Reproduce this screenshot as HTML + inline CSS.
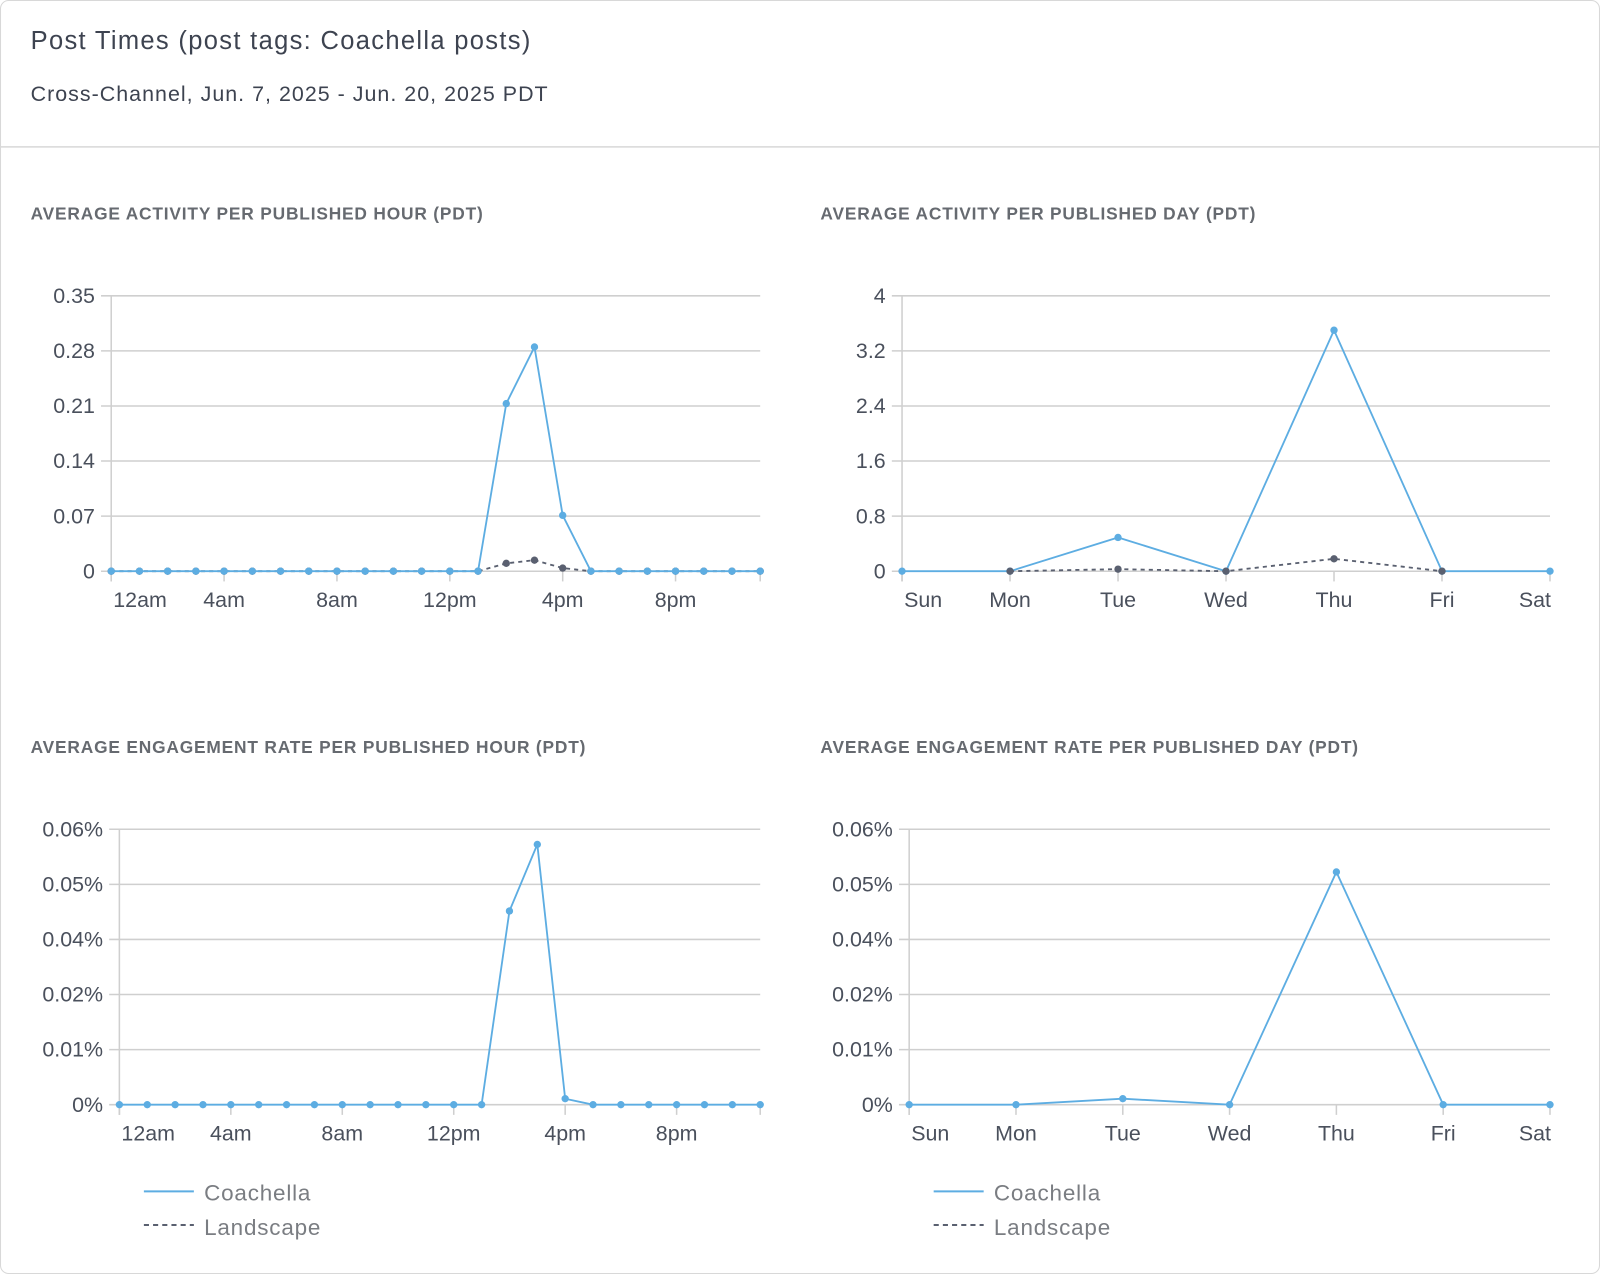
<!DOCTYPE html>
<html><head><meta charset="utf-8"><style>
html,body{margin:0;padding:0;background:#fff;}
svg{display:block;font-family:"Liberation Sans",sans-serif;}
</style></head><body>
<svg id="root" width="1600" height="1274" viewBox="0 0 1568 1249" preserveAspectRatio="none">
<rect x="0.5" y="0.5" width="1567" height="1248" rx="8" fill="#fff" stroke="#d8d8d8"/>
<text x="30" y="48" font-size="25" letter-spacing="1.3" fill="#3d4350">Post Times (post tags: Coachella posts)</text>
<text x="30" y="99" font-size="21" letter-spacing="1" fill="#3d4350">Cross-Channel, Jun. 7, 2025 - Jun. 20, 2025 PDT</text>
<line x1="0" y1="144" x2="1568" y2="144" stroke="#d8d8d8" stroke-width="1.5"/>
<text x="30" y="215" font-size="17" letter-spacing="0.8" font-weight="bold" fill="#666a70">AVERAGE ACTIVITY PER PUBLISHED HOUR (PDT)</text>
<text x="804" y="215" font-size="17" letter-spacing="0.8" font-weight="bold" fill="#666a70">AVERAGE ACTIVITY PER PUBLISHED DAY (PDT)</text>
<text x="30" y="738" font-size="17" letter-spacing="0.8" font-weight="bold" fill="#666a70">AVERAGE ENGAGEMENT RATE PER PUBLISHED HOUR (PDT)</text>
<text x="804" y="738" font-size="17" letter-spacing="0.8" font-weight="bold" fill="#666a70">AVERAGE ENGAGEMENT RATE PER PUBLISHED DAY (PDT)</text>
<g>
<line x1="141" y1="1168" x2="190" y2="1168" stroke="#5dade2" stroke-width="2"/>
<text x="200" y="1177" font-size="22" letter-spacing="0.8" fill="#7a7d82">Coachella</text>
<line x1="141" y1="1201" x2="190" y2="1201" stroke="#5a6070" stroke-width="2" stroke-dasharray="5,4"/>
<text x="200" y="1211" font-size="22" letter-spacing="0.8" fill="#7a7d82">Landscape</text>
</g>
<g>
<line x1="915" y1="1168" x2="964" y2="1168" stroke="#5dade2" stroke-width="2"/>
<text x="974" y="1177" font-size="22" letter-spacing="0.8" fill="#7a7d82">Coachella</text>
<line x1="915" y1="1201" x2="964" y2="1201" stroke="#5a6070" stroke-width="2" stroke-dasharray="5,4"/>
<text x="974" y="1211" font-size="22" letter-spacing="0.8" fill="#7a7d82">Landscape</text>
</g>
</svg>
<script>
// Chart data
const hourCategories = Array.from({length:24},(_,i)=>i);
const dayCategories = ["Sun","Mon","Tue","Wed","Thu","Fri","Sat"];
const hourActivityCoachella = [0,0,0,0,0,0,0,0,0,0,0,0,0,0,0.213,0.285,0.071,0,0,0,0,0,0,0];
const hourActivityLandscape = [0,0,0,0,0,0,0,0,0,0,0,0,0,0,0.010,0.014,0.004,0,0,0,0,0,0,0];
const dayActivityCoachella = [0,0,0.49,0,3.5,0,0];
const dayActivityLandscape = [null,0,0.03,0,0.18,0,null];
const hourEngCoachella = [0,0,0,0,0,0,0,0,0,0,0,0,0,0,0.0422,0.0567,0.0013,0,0,0,0,0,0,0];
const dayEngCoachella = [0,0,0.0013,0,0.0507,0,0];
const hourTickLabels = ["12am","4am","8am","12pm","4pm","8pm"];
const hourTickIdx = [0,4,8,12,16,20];
const activityHourTicks = ["0","0.07","0.14","0.21","0.28","0.35"];
const activityDayTicks = ["0","0.8","1.6","2.4","3.2","4"];
const engTicks = ["0%","0.01%","0.02%","0.04%","0.05%","0.06%"];

const NS="http://www.w3.org/2000/svg";
const root=document.getElementById('root');
function mk(tag,attrs,parent){const e=document.createElementNS(NS,tag);for(const k in attrs)e.setAttribute(k,attrs[k]);(parent||root).appendChild(e);return e;}

function chart(cfg){
  const g=mk('g',{});
  
  
  const {left,right,top,bottom,ymax,n}=cfg;
  const xs=i=>left+(right-left)*i/(n-1);
  const ys=v=>bottom-(bottom-top)*v/ymax;
  cfg.yTicks.forEach((t,i)=>{
    const y=bottom-(bottom-top)*i/(cfg.yTicks.length-1);
    const ln=mk('line',{x1:left-10,x2:right,y1:y,y2:y,stroke:'#cfcfcf','stroke-width':1.5},g);
    
    
    const tx=mk('text',{x:left-16,y:y+7,'font-size':21,fill:'#4a505c','text-anchor':'end'},g);
    tx.textContent=t;
    
    
  });
  const ax=mk('line',{x1:left,x2:left,y1:top,y2:bottom+10,stroke:'#cfcfcf','stroke-width':1.5},g);
  
  
  cfg.xTicks.forEach(i=>{
    const t=mk('line',{x1:xs(i),x2:xs(i),y1:bottom,y2:bottom+10,stroke:'#cfcfcf','stroke-width':1.5},g);
    
    
  });
  cfg.xLabels.forEach((lab,k)=>{
    const i=cfg.xLabelIdx[k];
    let x=xs(i),anchor='middle';
    if(i===0){x=xs(0)+2;anchor='start';}
    if(i===n-1){x=xs(n-1)+1;anchor='end';}
    const tx=mk('text',{x:x,y:bottom+35,'font-size':21,fill:'#4a505c','text-anchor':anchor},g);
    tx.textContent=lab;
    
    
  });
  cfg.series.forEach(s=>{
    let d='';let started=false;
    s.data.forEach((v,i)=>{if(v===null){return;}d+=(started?'L':'M')+xs(i)+' '+ys(v)+' ';started=true;});
    const p=mk('path',{d:d,fill:'none',stroke:s.color,'stroke-width':1.8,'stroke-dasharray':s.dash||'none'},g);
    
    
    s.data.forEach((v,i)=>{
      if(v===null)return;
      const c=mk('circle',{cx:xs(i),cy:ys(v),r:3.6,fill:s.color},g);
      
      
    });
  });
}
chart({name:'hour-activity-chart',left:109,right:745,top:290,bottom:560,ymax:0.35,n:hourCategories.length,
  yTicks:activityHourTicks,xTicks:[0,4,8,12,16,20,23],xLabels:hourTickLabels,xLabelIdx:hourTickIdx,
  series:[{name:'landscape',data:hourActivityLandscape,color:'#5a6070',dash:'4,4'},{name:'coachella',data:hourActivityCoachella,color:'#5dade2'}]});
chart({name:'day-activity-chart',left:884,right:1519,top:290,bottom:560,ymax:4,n:dayCategories.length,
  yTicks:activityDayTicks,xTicks:[0,1,2,3,4,5,6],xLabels:dayCategories,xLabelIdx:[0,1,2,3,4,5,6],
  series:[{name:'coachella',data:dayActivityCoachella,color:'#5dade2'},{name:'landscape',data:dayActivityLandscape,color:'#5a6070',dash:'4,4'}]});
chart({name:'hour-engagement-chart',left:117,right:745,top:813,bottom:1083,ymax:0.06,n:hourCategories.length,
  yTicks:engTicks,xTicks:[0,4,8,12,16,20,23],xLabels:hourTickLabels,xLabelIdx:hourTickIdx,
  series:[{name:'coachella',data:hourEngCoachella,color:'#5dade2'}]});
chart({name:'day-engagement-chart',left:891,right:1519,top:813,bottom:1083,ymax:0.06,n:dayCategories.length,
  yTicks:engTicks,xTicks:[0,1,2,3,4,5,6],xLabels:dayCategories,xLabelIdx:[0,1,2,3,4,5,6],
  series:[{name:'coachella',data:dayEngCoachella,color:'#5dade2'}]});
</script>
</body></html>
